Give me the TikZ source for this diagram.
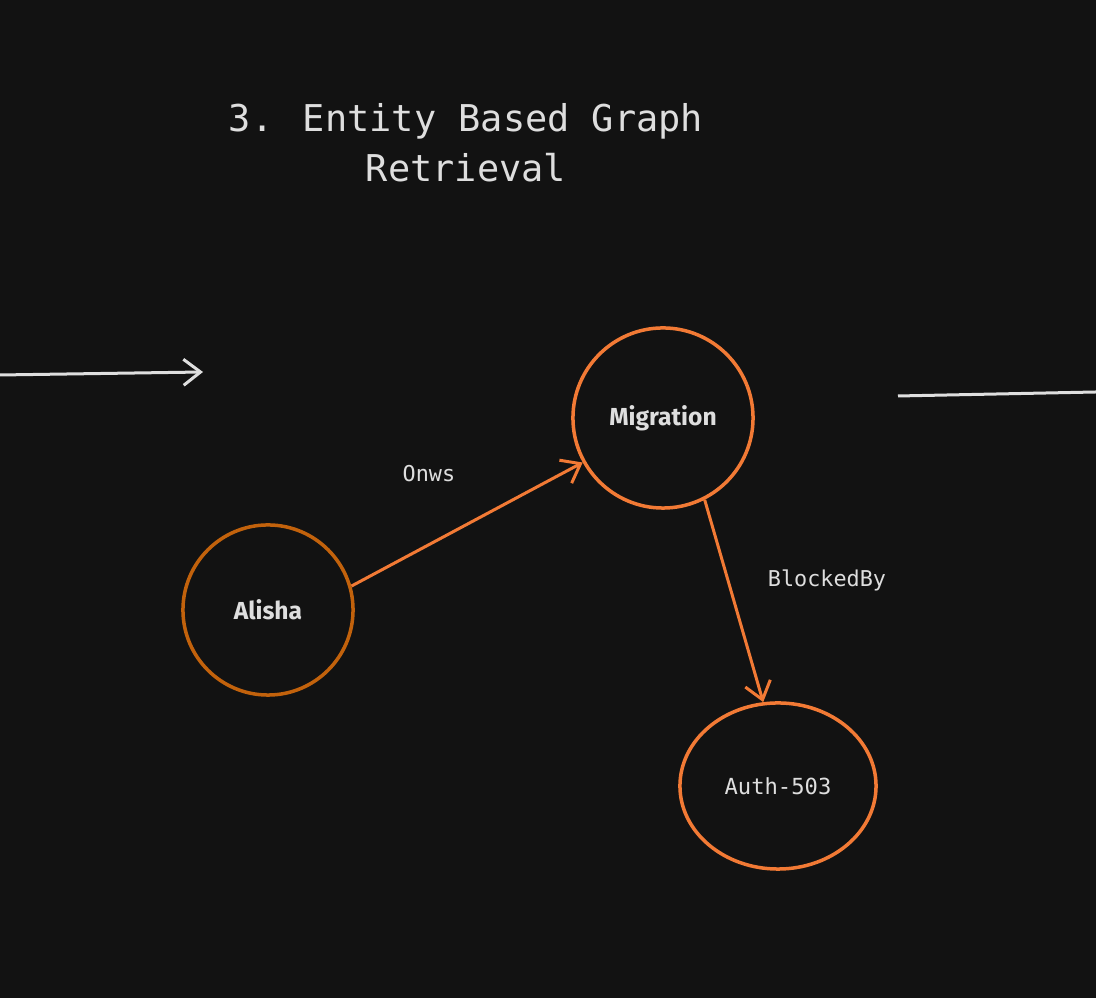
\documentclass[tikz,border=0pt]{standalone}
\usepackage{fontspec}
\usepackage{tikz}
\usetikzlibrary{arrows.meta, shapes.geometric}
\setmainfont{Fira Sans}
\newfontfamily\monofont{DejaVu Sans Mono}

\definecolor{canvas}{HTML}{121212}
\definecolor{inktext}{HTML}{DEDEDE}
\definecolor{burnt}{HTML}{C2620C}
\definecolor{tangerine}{HTML}{F27A35}

\tikzset{
    entity/.style={circle, draw=tangerine, line width=0.035cm, minimum size=1.8cm,
        text=inktext, font=\bfseries\fontsize{7}{8}\selectfont},
    relation/.style={-{Straight Barb[length=0.17cm, width=0.26cm]}, draw=tangerine, line width=0.03cm},
    edgelabel/.style={text=inktext, font=\monofont\fontsize{6.2}{7}\selectfont},
}

\begin{document}
\begin{tikzpicture}[x=0.01cm, y=-0.01cm]
    % Canvas
    \fill[canvas] (0,0) rectangle (1096,998);
    \useasboundingbox (0,0) rectangle (1096,998);

    % Title
    \node[text=inktext, align=center, font=\monofont\fontsize{10.5}{14.2}\selectfont] (title) at (466,143)
        {3. Entity Based Graph\\Retrieval};

    % Entities
    \node[entity, draw=burnt, minimum size=1.7cm] (alisha) at (268,610) {Alisha};
    \node[entity, minimum size=1.8cm] (migration) at (663,418) {Migration};
    \node[ellipse, draw=tangerine, line width=0.035cm, minimum width=1.96cm, minimum height=1.66cm,
        text=inktext, font=\monofont\fontsize{6.3}{7}\selectfont] (auth) at (778,786) {Auth-503};

    % Relations
    \draw[relation] (alisha.16) -- (migration.209);
    \draw[relation] (migration.-63) -- (auth.100);
    \node[edgelabel] (owns) at (429,474) {Onws};
    \node[edgelabel] (blocked) at (827,580) {BlockedBy};

    % Strokes running off the canvas
    \coordinate (inStart) at (0,375);
    \coordinate (inEnd) at (203,372);
    \coordinate (outStart) at (898,396);
    \coordinate (outEnd) at (1096,392);
    \draw[-{Straight Barb[length=0.17cm, width=0.26cm]}, draw=inktext, line width=0.03cm] (inStart) -- (inEnd);
    \draw[draw=inktext, line width=0.03cm] (outStart) -- (outEnd);
\end{tikzpicture}
\end{document}
